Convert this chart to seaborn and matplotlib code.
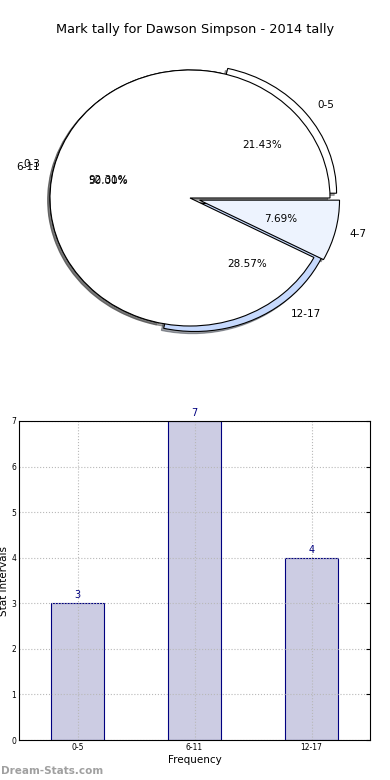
import matplotlib
matplotlib.use("Agg")
import matplotlib.pyplot as plt
import seaborn as sns
import pandas as pd

sns.set_style("white")
plt.rcParams['font.family'] = ['DejaVu Sans']
plt.rcParams['text.color'] = 'black'
plt.rcParams['axes.labelcolor'] = 'black'
plt.rcParams['xtick.color'] = 'black'
plt.rcParams['ytick.color'] = 'black'

# Data
title = "Mark tally for Dawson Simpson - 2014 tally"
pie1_labels = ["0-5", "6-11", "12-17"]
pie1_values = [3, 7, 4]
pie2_labels = ["0-3", "4-7"]
pie2_values = [12, 1]
bar_categories = ["0-5", "6-11", "12-17"]
bar_values = [3, 7, 4]

fig = plt.figure(figsize=(3.9, 7.8), dpi=100)

# Pie axes
ax1 = fig.add_axes([15/390, 1-358/780, 350/390, 320/780])
shadow = {"ox": -0.012, "oy": -0.012}
ax1.pie(pie1_values, labels=pie1_labels, autopct="%1.2f%%",
        colors=["white", "white", "#c6d9fd"], explode=[0.06, 0, 0.055],
        shadow=shadow, wedgeprops=dict(edgecolor="black", linewidth=0.8),
        textprops=dict(fontsize=7.5))
ax1.pie(pie2_values, labels=pie2_labels, autopct="%1.2f%%",
        colors=["white", "#edf3fe"], explode=[0, 0.07],
        shadow=shadow, wedgeprops=dict(edgecolor="black", linewidth=0.8),
        textprops=dict(fontsize=7.5))
ax1.set_aspect("auto")
ax1.set_xlim(-1.25, 1.25)
ax1.set_ylim(-1.25, 1.25)
fig.text(195/390, 1-30/780, title, ha="center", va="center", fontsize=9.3)

# Bar axes
ax2 = fig.add_axes([19/390, 40/780, 351/390, 319/780])
df = pd.DataFrame({"cat": bar_categories, "val": bar_values})
sns.barplot(data=df, x="cat", y="val", ax=ax2, color="#cccce3", saturation=1,
            edgecolor="#000080", linewidth=0.8, width=0.45)
ax2.set_xlim(-0.5, 2.5)
ax2.set_ylim(0, 7)
ax2.set_axisbelow("line")
ax2.grid(True, linestyle=":", color="#b8b8b8", linewidth=0.8)
for i, v in enumerate(bar_values):
    ax2.text(i, v + 0.07, str(v), ha="center", va="bottom", fontsize=7, color="#000080")
ax2.set_xlabel("Frequency", fontsize=7.5, labelpad=2)
ax2.set_ylabel("Stat Intervals", fontsize=7.5, labelpad=2)
ax2.tick_params(axis="both", labelsize=5.5, direction="in", length=3, right=True, top=False, pad=2)
for s in ax2.spines.values():
    s.set_color("black")
    s.set_linewidth(0.8)
    s.set_zorder(3)

fig.text(1/390, 1-771/780, "Dream-Stats.com", ha="left", va="center",
         fontsize=7.5, color="#a0a0a0", fontweight="bold")

fig.savefig("out.png", dpi=100)
